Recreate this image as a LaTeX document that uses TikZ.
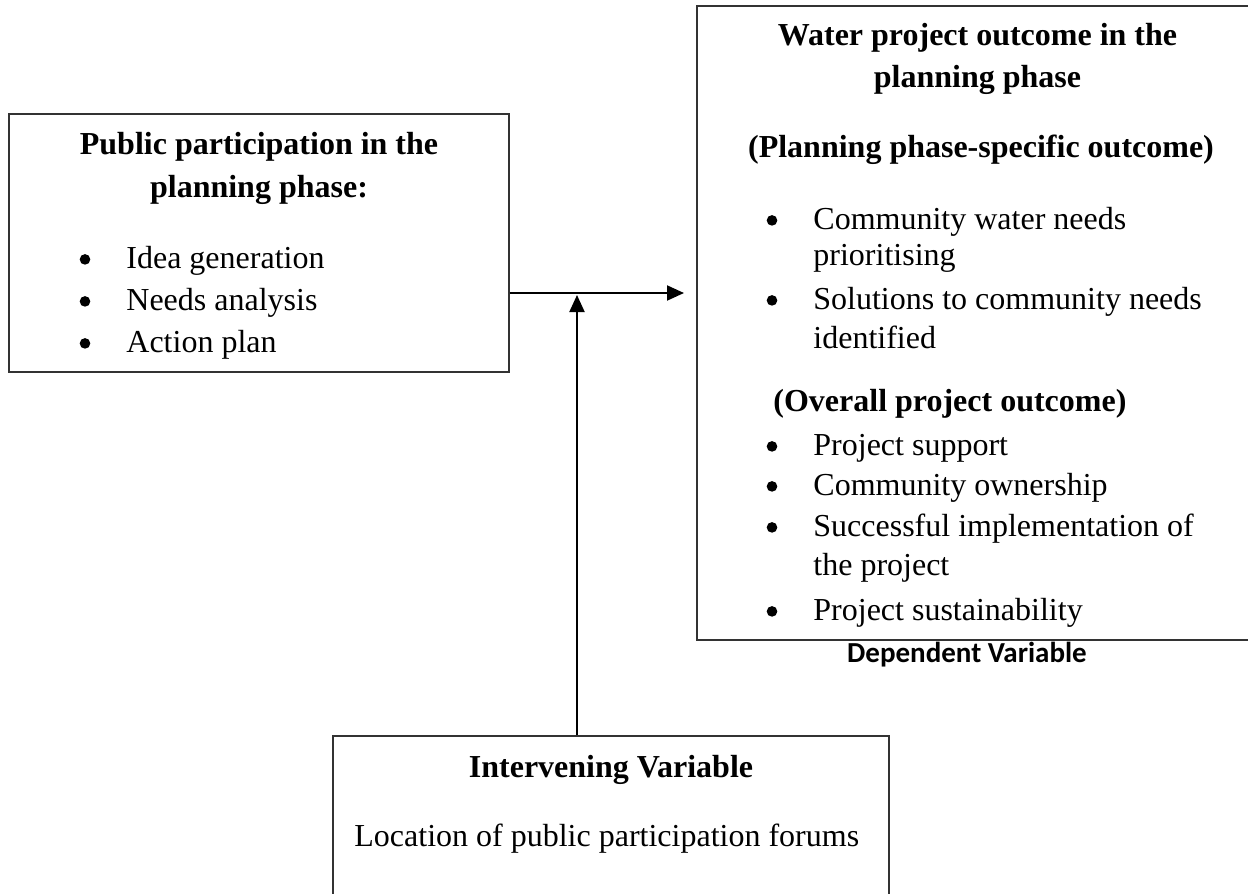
\documentclass[tikz,border=0pt]{standalone}
\usepackage{fontspec}
\setmainfont{Liberation Serif}
\newfontfamily\calibri{Carlito}
\usetikzlibrary{arrows.meta}
\begin{document}
\begin{tikzpicture}[x=0.5pt,y=-0.5pt,
  box/.style={draw=black!80,line width=0.7pt,rectangle,inner sep=0pt},
  arr/.style={line width=1pt,-{Triangle[length=8.5pt,width=7.5pt]}},
  txt/.style={anchor=base,inner sep=0pt,font=\fontsize{16}{19}\selectfont},
  ttl/.style={txt,font=\fontsize{16}{19}\selectfont\bfseries},
  lft/.style={txt,anchor=base west},
  bul/.style={circle,fill=black,inner sep=0pt,minimum size=5.3pt,yshift=4.3pt}]
\useasboundingbox (0,0) rectangle (1248,894);
% boxes
\node[box,minimum width=250pt,minimum height=129pt] (L) at (259,243) {};
\node[box,minimum width=280.5pt,minimum height=317pt] (R) at (977.5,323) {};
\node[box,minimum width=278pt,minimum height=87pt] (B) at (611,823) {};
% left box text
\node[ttl] (l1) at (259,154) {Public participation in the};
\node[ttl] (l2) at (259,197) {planning phase:};
\node[bul] (lb1) at (85,268) {};
\node[lft] (lt1) at (126,268) {Idea generation};
\node[bul] (lb2) at (85,310) {};
\node[lft] (lt2) at (126,310) {Needs analysis};
\node[bul] (lb3) at (85,352) {};
\node[lft] (lt3) at (126,352) {Action plan};
% right box text
\node[ttl] (r1) at (977.5,46) {Water project outcome in the};
\node[ttl] (r2) at (977.5,87) {planning phase};
\node[ttl] (r3) at (981,157) {(Planning phase-specific outcome)};
\node[bul] (rb1) at (772,229) {};
\node[lft] (rt1) at (813,229) {Community water needs};
\node[lft] (rt1b) at (813,265) {prioritising};
\node[bul] (rb2) at (772,309) {};
\node[lft] (rt2) at (813,309) {Solutions to community needs};
\node[lft] (rt2b) at (813,348) {identified};
\node[ttl,anchor=base west] (r4) at (773,411) {(Overall project outcome)};
\node[bul] (rb3) at (772,455) {};
\node[lft] (rt3) at (813,455) {Project support};
\node[bul] (rb4) at (772,495) {};
\node[lft] (rt4) at (813,495) {Community ownership};
\node[bul] (rb5) at (772,536) {};
\node[lft] (rt5) at (813,536) {Successful implementation of};
\node[lft] (rt5b) at (813,575) {the project};
\node[bul] (rb6) at (772,620) {};
\node[lft] (rt6) at (813,620) {Project sustainability};
\node[txt,font=\calibri\bfseries\fontsize{14.5}{17}\selectfont] (dv) at (967,662) {Dependent Variable};
% bottom box text
\node[ttl] (b1) at (611,777) {Intervening Variable};
\node[lft] (b2) at (354,846) {Location of public participation forums};
% connectors
\coordinate (tipH) at (684,293);
\coordinate (tipV) at (577,295);
\draw[arr] (L.east |- tipH) -- (tipH);
\draw[arr] (B.north -| tipV) -- (tipV);
\end{tikzpicture}
\end{document}
